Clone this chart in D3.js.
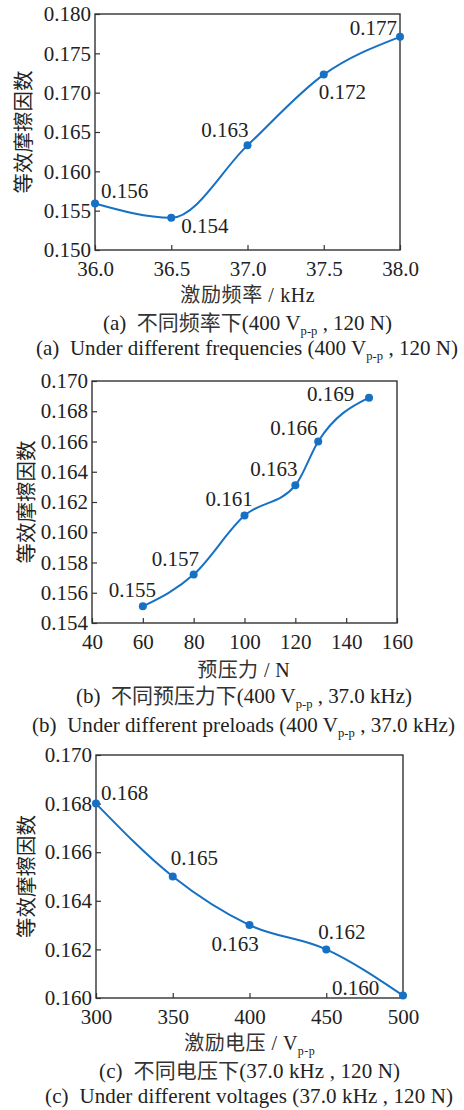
<!DOCTYPE html>
<html><head><meta charset="utf-8">
<script src="https://cdn.jsdelivr.net/npm/d3@7"></script>
<style>
html,body{margin:0;padding:0;background:#fff;}
svg text{fill:#222;}
.num{font-family:"Liberation Serif","Times New Roman",serif;}
.cjk{font-family:"Noto Sans CJK SC",sans-serif;}
</style></head>
<body><svg id="c" width="464" height="1110"></svg>
<script>
// ---- Data ----
const freqX = [36.0, 36.5, 37.0, 37.5, 38.0];
const freqY = [0.1559, 0.1541, 0.1633, 0.1723, 0.1771];
const freqLabels = ["0.156", "0.154", "0.163", "0.172", "0.177"];
const freqXTicks = [36.0, 36.5, 37.0, 37.5, 38.0];
const freqYTicks = [0.150, 0.155, 0.160, 0.165, 0.170, 0.175, 0.180];

const preX = [60, 80, 100, 120, 129, 149];
const preY = [0.1551, 0.1572, 0.1611, 0.1631, 0.1660, 0.1689];
const preLabels = ["0.155", "0.157", "0.161", "0.163", "0.166", "0.169"];
const preXTicks = [40, 60, 80, 100, 120, 140, 160];
const preYTicks = [0.154, 0.156, 0.158, 0.160, 0.162, 0.164, 0.166, 0.168, 0.170];

const voltX = [300, 350, 400, 450, 500];
const voltY = [0.1680, 0.1650, 0.1630, 0.1620, 0.1601];
const voltLabels = ["0.168", "0.165", "0.163", "0.162", "0.160"];
const voltXTicks = [300, 350, 400, 450, 500];
const voltYTicks = [0.160, 0.162, 0.164, 0.166, 0.168, 0.170];

const yTitle = "等效摩擦因数";

const svg = d3.select("#c");
const blue = "#1670c4";
const FS = 21;

function panel(cfg) {
  const g = svg.append("g");
  const x = d3.scaleLinear().domain(cfg.xDomain).range([cfg.left, cfg.right]);
  const y = d3.scaleLinear().domain(cfg.yDomain).range([cfg.bottom, cfg.top]);
  const xAxis = d3.axisBottom(x).tickValues(cfg.xTicks).tickFormat(cfg.xFmt).tickSizeInner(-5).tickSizeOuter(0).tickPadding(10);
  const yAxis = d3.axisLeft(y).tickValues(cfg.yTicks).tickFormat(d3.format(".3f")).tickSizeInner(-5).tickSizeOuter(0).tickPadding(5);
  const gx = g.append("g").attr("transform", `translate(0,${cfg.bottom})`).call(xAxis);
  const gy = g.append("g").attr("transform", `translate(${cfg.left},0)`).call(yAxis);
  [gx, gy].forEach(a => {
    a.select(".domain").remove();
    a.selectAll(".tick line").attr("stroke", "#333").attr("stroke-width", 1.2);
    a.selectAll(".tick text").attr("class", "num").style("font-size", FS + "px").attr("fill", "#222");
  });
  gx.selectAll(".tick text").attr("dy", "0.71em").attr("y", 11);
  gy.selectAll(".tick text").attr("x", -4);
  g.append("rect").attr("x", cfg.left).attr("y", cfg.top)
    .attr("width", cfg.right - cfg.left).attr("height", cfg.bottom - cfg.top)
    .attr("fill", "none").attr("stroke", "#333").attr("stroke-width", 1.4);
  const pts = cfg.xs.map((v, i) => [v, cfg.ys[i]]);
  const line = d3.line().x(d => x(d[0])).y(d => y(d[1])).curve(d3.curveMonotoneX);
  g.append("path").attr("d", line(pts)).attr("fill", "none").attr("stroke", blue).attr("stroke-width", 2);
  g.selectAll("circle.pt").data(pts).join("circle").attr("class", "pt")
    .attr("cx", d => x(d[0])).attr("cy", d => y(d[1])).attr("r", 4).attr("fill", blue);
  g.selectAll("text.lab").data(pts).join("text").attr("class", "num")
    .style("font-size", FS + "px")
    .attr("x", (d, i) => x(d[0]) + cfg.labOff[i][0])
    .attr("y", (d, i) => y(d[1]) + cfg.labOff[i][1])
    .attr("text-anchor", (d, i) => cfg.labOff[i][2] || "start")
    .text((d, i) => cfg.labels[i]);
  const cy = (cfg.top + cfg.bottom) / 2;
  g.append("text").attr("class", "cjk").style("font-size", "20.5px").attr("fill", "#333")
    .attr("transform", `translate(${cfg.ytx},${cy}) rotate(-90)`)
    .attr("text-anchor", "middle").attr("dy", "0.35em").text(yTitle);
  const cx = (cfg.left + cfg.right) / 2;
  return {g, cx};
}

function richText(g, xc, yb, parts, size, target) {
  const t = g.append("text").attr("x", xc).attr("y", yb).attr("text-anchor", "middle")
    .style("font-size", size + "px").style("white-space", "pre");
  parts.forEach(p => {
    const s = t.append("tspan").attr("class", p.c === "cjk" ? "cjk" : "num").text(p.t);
    if (p.c === "cjk") s.attr("fill", "#333");
    if (p.sub) s.style("font-size", (size * 0.6) + "px").attr("dy", 5);
    if (p.up) s.attr("dy", -5);
  });
  if (target) {
    const w = t.node().getComputedTextLength();
    const n = t.text().length;
    const ls = (target - w) / n;
    t.style("letter-spacing", ls + "px").attr("x", xc + ls / 2);
  }
  return t;
}

// Panel (a)
const A = panel({
  left: 95, right: 400, top: 14, bottom: 250,
  xDomain: [36, 38], yDomain: [0.150, 0.180],
  xTicks: freqXTicks, yTicks: freqYTicks, xFmt: d3.format(".1f"),
  xs: freqX, ys: freqY, labels: freqLabels,
  labOff: [[6, -6], [10, 15], [1, -8, "end"], [-5, 24], [-3, -2, "end"]],
  ytx: 24
});
richText(A.g, 247.5, 302, [{t: "激励频率", c: "cjk"}, {t: " / kHz"}], 20, 135);
richText(A.g, 247.5, 330, [{t: "(a)  "}, {t: "不同频率下", c: "cjk"}, {t: "(400 V"}, {t: "p-p", sub: 1}, {t: " , 120 N)", up: 1}], 21, 289);
richText(A.g, 247, 355, [{t: "(a)  Under different frequencies (400 V"}, {t: "p-p", sub: 1}, {t: " , 120 N)", up: 1}], 21, 422);

// Panel (b)
const B = panel({
  left: 92, right: 397, top: 381, bottom: 623,
  xDomain: [40, 160], yDomain: [0.154, 0.170],
  xTicks: preXTicks, yTicks: preYTicks, xFmt: d3.format("d"),
  xs: preX, ys: preY, labels: preLabels,
  labOff: [[-34, -9], [-42, -9], [-39, -10], [-45, -9], [-48, -7], [-62, 3]],
  ytx: 27
});
richText(B.g, 243.5, 677, [{t: "预压力", c: "cjk"}, {t: " / N"}], 20, 93);
richText(B.g, 244, 703, [{t: "(b)  "}, {t: "不同预压力下", c: "cjk"}, {t: "(400 V"}, {t: "p-p", sub: 1}, {t: " , 37.0 kHz)", up: 1}], 21, 336);
richText(B.g, 243.5, 732, [{t: "(b)  Under different preloads (400 V"}, {t: "p-p", sub: 1}, {t: " , 37.0 kHz)", up: 1}], 21, 423);

// Panel (c)
const C = panel({
  left: 96, right: 403, top: 755, bottom: 998,
  xDomain: [300, 500], yDomain: [0.160, 0.170],
  xTicks: voltXTicks, yTicks: voltYTicks, xFmt: d3.format("d"),
  xs: voltX, ys: voltY, labels: voltLabels,
  labOff: [[5, -4], [-2, -12], [-38, 26], [-8, -10], [-71, -1]],
  ytx: 27
});
richText(C.g, 249.5, 1050, [{t: "激励电压", c: "cjk"}, {t: " / V"}, {t: "p-p", sub: 1}], 20, 131);
richText(C.g, 249.5, 1078, [{t: "(c)  "}, {t: "不同电压下", c: "cjk"}, {t: "(37.0 kHz , 120 N)"}], 21, 301);
richText(C.g, 249, 1103, [{t: "(c)  Under different voltages (37.0 kHz , 120 N)"}], 21, 408);
</script></body></html>
